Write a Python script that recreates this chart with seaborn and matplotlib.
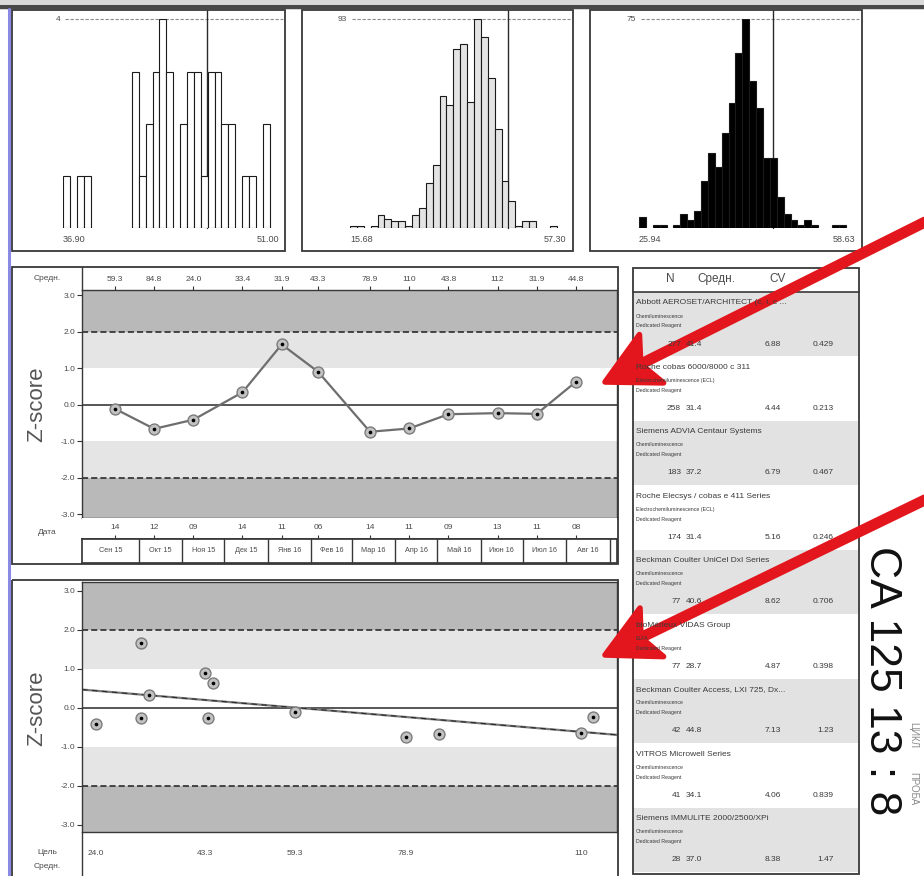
import numpy as np
import pandas as pd
import matplotlib
matplotlib.use("Agg")
import matplotlib.pyplot as plt
import matplotlib.dates as mdates
from matplotlib.patches import Rectangle, Polygon
import seaborn as sns

sns.set_theme(style="white")
plt.rcParams["font.family"] = ["Liberation Sans", "DejaVu Sans"]

W, H = 924, 876

# ---------------- data ----------------
# histograms: own method group / all labs / method principle
hist_lo = [36.90, 15.68, 25.94]
hist_hi = [51.00, 57.30, 58.63]
counts_method = [1, 0, 1, 1, 0, 0, 0, 0, 0, 0, 3, 1, 2, 3, 4, 3, 0, 2, 3, 3, 1, 3, 3, 2, 2, 0, 1, 1, 0, 2, 0]
counts_all = [1, 1, 0, 1, 6, 4, 3, 3, 1, 6, 9, 20, 28, 59, 55, 80, 82, 56, 93, 85, 67, 44, 21, 12, 1, 3, 3, 0, 0, 1, 0]
counts_principle = [4, 0, 1, 1, 0, 1, 5, 3, 6, 17, 27, 22, 34, 45, 63, 75, 53, 43, 25, 25, 11, 5, 3, 1, 3, 1, 0, 0, 1, 1, 0]
lab_result = 46.4

# Levey-Jennings history
run_dates = ["2015-09-14", "2015-10-12", "2015-11-09", "2015-12-14", "2016-01-11", "2016-02-06",
             "2016-03-14", "2016-04-11", "2016-05-09", "2016-06-13", "2016-07-11", "2016-08-08"]
run_z = [-0.11, -0.66, -0.41, 0.34, 1.65, 0.90, -0.74, -0.65, -0.26, -0.23, -0.25, 0.63]
run_means = [59.3, 84.8, 24.0, 33.4, 31.9, 43.3, 78.9, 110, 43.8, 112, 31.9, 44.8]
month_names = ["Сен 15", "Окт 15", "Ноя 15", "Дек 15", "Янв 16", "Фев 16",
               "Мар 16", "Апр 16", "Май 16", "Июн 16", "Июл 16", "Авг 16"]
mean_ticks = [24.0, 43.3, 59.3, 78.9, 110]

# peer group table
instruments = ["Abbott AEROSET/ARCHITECT (c, i, c ...", "Roche cobas 6000/8000 c 311",
               "Siemens ADVIA Centaur Systems", "Roche Elecsys / cobas e 411 Series",
               "Beckman Coulter UniCel DxI Series", "bioMérieux VIDAS Group",
               "Beckman Coulter Access, LXI 725, Dx...", "VITROS Microwell Series",
               "Siemens IMMULITE 2000/2500/XPi"]
methods = ["Chemiluminescence", "Electrochemiluminescence (ECL)", "Chemiluminescence",
           "Electrochemiluminescence (ECL)", "Chemiluminescence", "ELFA",
           "Chemiluminescence", "Chemiluminescence", "Chemiluminescence"]
reagents = ["Dedicated Reagent"] * 9
group_n = [277, 258, 183, 174, 77, 77, 42, 41, 28]
group_mean = [41.4, 31.4, 37.2, 31.4, 40.6, 28.7, 44.8, 34.1, 37.0]
group_cv = [6.88, 4.44, 6.79, 5.16, 8.62, 4.87, 7.13, 4.06, 8.38]
group_unc = [0.429, 0.213, 0.467, 0.246, 0.706, 0.398, 1.23, 0.839, 1.47]

analyte = "CA 125"
cycle_no, sample_no = 13, 8

# ---------------- figure ----------------
fig = plt.figure(figsize=(W / 100, H / 100), dpi=100)
fig.patch.set_facecolor("white")


def frac(l, t, r, b):
    return [l / W, 1 - b / H, (r - l) / W, (b - t) / H]


TXT = "#4a4a4a"
EDGE = "#383838"
DARK_BAND = "#b9b9b9"
LIGHT_BAND = "#e5e5e5"

# ---------------- histograms ----------------
BIN_PX = 6.89
hist_sets = [(counts_method, 63, "white"), (counts_all, 350, "#e4e4e4"), (counts_principle, 639, "black")]
for (counts, left, face), lo, hi in zip(hist_sets, hist_lo, hist_hi):
    n = len(counts)
    right = left + n * BIN_PX
    top, base = 19.5, 228
    ax = fig.add_axes(frac(left, top, right, base))
    edges = np.linspace(lo, hi, n + 1)
    bins_df = pd.DataFrame({"value": (edges[:-1] + edges[1:]) / 2, "count": counts})
    sns.histplot(data=bins_df, x="value", weights="count", bins=list(edges), ax=ax,
                 color=face, edgecolor="#1a1a1a", linewidth=0.8, alpha=1, zorder=2)
    for p in list(ax.patches):
        if p.get_height() == 0:
            p.remove()
    ax.set_xlim(lo, hi)
    ax.set_ylim(0, max(counts))
    ax.axis("off")
    ax.axvline(lab_result, ymin=0, ymax=(base - 10) / (base - top), color="#2a2a2a",
               lw=1.0, zorder=1, clip_on=False)
    ax.axhline(max(counts), xmin=0.01, xmax=1.03, color="#8c8c8c", lw=0.8,
               ls=(0, (3, 1.5)), clip_on=False, zorder=0)
    ax.text(-3 / (right - left), 1.0, str(max(counts)), transform=ax.transAxes,
            ha="right", va="center", fontsize=6, color=TXT)
    ax.text(0, -0.035, f"{lo:.2f}", transform=ax.transAxes, ha="left", va="top",
            fontsize=6.5, color=TXT)
    ax.text(1 + 3 / (right - left), -0.035, f"{hi:.2f}", transform=ax.transAxes,
            ha="right", va="top", fontsize=6.5, color=TXT)

# ---------------- shared helpers for the z-score panels ----------------
zticks = [3, 2, 1, 0, -1, -2, -3]


def z_background(ax):
    ax.axhspan(2, 10, color=DARK_BAND, lw=0, zorder=0)
    ax.axhspan(1, 2, color=LIGHT_BAND, lw=0, zorder=0)
    ax.axhspan(-2, -1, color=LIGHT_BAND, lw=0, zorder=0)
    ax.axhspan(-10, -2, color=DARK_BAND, lw=0, zorder=0)
    ax.axhline(0, color="#3a3a3a", lw=1.2, zorder=1)
    for v in (2, -2):
        ax.axhline(v, color="#1e1e1e", lw=1.1, ls=(0, (4, 2)), zorder=1)
    ax.set_yticks(zticks)
    ax.set_yticklabels([f"{v:.1f}" for v in zticks])
    ax.tick_params(axis="y", left=True, direction="out", length=3.5, width=0.8,
                   pad=1.5, labelsize=6, labelcolor=TXT, color="#333")
    for s in ax.spines.values():
        s.set_color(EDGE)
        s.set_linewidth(1.0)
    ax.set_xlabel("")
    ax.set_ylabel("")


def z_markers(ax, x, y):
    sns.scatterplot(x=x, y=y, ax=ax, s=62, color="#c2c2c2", edgecolor="#7c7c7c",
                    linewidth=1.0, zorder=3, legend=False)
    sns.scatterplot(x=x, y=y, ax=ax, s=7, color="black", linewidth=0, zorder=4, legend=False)


def mean_label(v):
    return f"{v:.1f}" if v < 100 else f"{v:.0f}"


# ---------------- Levey-Jennings panel ----------------
dates = pd.to_datetime(run_dates)
xnum = mdates.date2num(dates)
x0 = mdates.date2num(pd.Timestamp("2015-08-21 12:00"))
x1 = mdates.date2num(pd.Timestamp("2016-09-06 06:00"))

ax_lj = fig.add_axes(frac(82, 290, 617, 518))
z_background(ax_lj)
sns.lineplot(x=xnum, y=run_z, ax=ax_lj, color="#6e6e6e", lw=1.6, zorder=2)
z_markers(ax_lj, xnum, run_z)
ax_lj.set_xlim(x0, x1)
ax_lj.set_ylim(-3.1, 3.14)
ax_lj.xaxis.tick_top()
ax_lj.set_xticks(xnum)
ax_lj.set_xticklabels([mean_label(v) for v in run_means])
ax_lj.tick_params(axis="x", top=True, bottom=False, direction="out", length=3, width=0.8,
                  pad=2, labelsize=6, labelcolor=TXT, color="#333")

# date row
ax_day = fig.add_axes(frac(82, 518, 617, 539))
ax_day.set_xlim(x0, x1)
ax_day.set_ylim(0, 1)
ax_day.set_yticks([])
ax_day.set_xticks(xnum)
ax_day.tick_params(axis="x", bottom=True, top=False, direction="in", length=3, width=0.8,
                   labelbottom=False, color="#333")
for s in ["top", "left", "right"]:
    ax_day.spines[s].set_visible(False)
ax_day.spines["bottom"].set_color(EDGE)
for xv, d in zip(xnum, dates):
    ax_day.text(xv, 0.55, f"{d.day:02d}", ha="center", va="center", fontsize=6, color=TXT)

# month row
ax_mon = fig.add_axes(frac(82, 539, 617, 563))
ax_mon.set_xlim(x0, x1)
ax_mon.set_ylim(0, 1)
ax_mon.set_xticks([])
ax_mon.set_yticks([])
for s in ax_mon.spines.values():
    s.set_color(EDGE)
month_starts = pd.date_range(dates[0].to_period("M").to_timestamp(), periods=len(month_names) + 1, freq="MS")
mnum = mdates.date2num(month_starts)
for i, name in enumerate(month_names):
    a = x0 if i == 0 else mnum[i]
    b = mnum[i + 1]
    if i > 0:
        ax_mon.axvline(a, color=EDGE, lw=1.0)
    ax_mon.text((a + b) / 2, 0.5, name, ha="center", va="center", fontsize=5.2, color=TXT)
ax_mon.axvline(mnum[-1], color=EDGE, lw=1.0)

# ---------------- z-score vs mean panel ----------------
ax_sc = fig.add_axes(frac(82, 582, 617, 832))
z_background(ax_sc)
ax_sc.set_xlim(21.5, 116.3)
ax_sc.set_ylim(-3.18, 3.22)
sns.regplot(x=np.array(run_means), y=np.array(run_z), ax=ax_sc, scatter=False, ci=None,
            truncate=False, line_kws=dict(color="#7a7a7a", lw=1.6, zorder=2))
sns.regplot(x=np.array(run_means), y=np.array(run_z), ax=ax_sc, scatter=False, ci=None,
            truncate=False, line_kws=dict(color="#2a2a2a", lw=0.8, ls=(0, (5, 4)), zorder=2))
z_markers(ax_sc, np.array(run_means), np.array(run_z))
ax_sc.set_xlim(21.5, 116.3)
ax_sc.set_ylim(-3.18, 3.22)
ax_sc.set_xticks(mean_ticks)
ax_sc.set_xticklabels([mean_label(v) for v in mean_ticks])
ax_sc.tick_params(axis="x", bottom=True, length=0, pad=13, labelsize=6, labelcolor=TXT)
ax_sc.set_xlabel("")
ax_sc.set_ylabel("")

# ---------------- overlay: frames, table, titles, arrows ----------------
ov = fig.add_axes([0, 0, 1, 1], zorder=10)
ov.set_xlim(0, W)
ov.set_ylim(H, 0)
ov.axis("off")
ov.patch.set_alpha(0)

ov.add_patch(Rectangle((0, 0), W, 4, color="#dadada", lw=0))
ov.plot([0, W], [6.5, 6.5], color="#4a4a4a", lw=3.2, solid_capstyle="butt")
ov.plot([9, 9], [9, H], color="#8a8ae4", lw=2.2)

for (l, t, r, b) in [(12, 10, 285, 251), (302, 10, 573, 251), (590, 10, 862, 251),
                     (12, 267, 618, 564), (12, 580, 618, H + 5), (633, 268, 859, 874)]:
    ov.add_patch(Rectangle((l, t), r - l, b - t, fill=False, ec=EDGE, lw=1.3))
ov.plot([82, 82], [267, 290], color=EDGE, lw=1.0)
ov.plot([82, 82], [832, H], color=EDGE, lw=1.0)

ov.text(47, 279, "Средн.", ha="center", va="center", fontsize=6, color=TXT)
ov.text(47, 532, "Дата", ha="center", va="center", fontsize=6, color=TXT)
ov.text(47, 853, "Цель", ha="center", va="center", fontsize=6, color=TXT)
ov.text(47, 866, "Средн.", ha="center", va="center", fontsize=6, color=TXT)
for yc in (404, 708):
    ov.text(37, yc, "Z-score", rotation=90, ha="center", va="center", fontsize=16, color="#555555")

# peer group table
ov.plot([633, 859], [292, 292], color=EDGE, lw=1.2)
ov.text(670, 279, "N", ha="center", va="center", fontsize=8.5, color=TXT)
ov.text(716, 279, "Средн.", ha="center", va="center", fontsize=8.5, color=TXT)
ov.text(778, 279, "CV", ha="center", va="center", fontsize=8.5, color=TXT)
ROW_H = (872 - 292) / len(instruments)
for i in range(len(instruments)):
    top = 292 + i * ROW_H
    if i % 2 == 0:
        ov.add_patch(Rectangle((634, top), 224, ROW_H, color="#e2e2e2", lw=0, zorder=0))
    ov.text(636, top + 11, instruments[i], ha="left", va="center", fontsize=6, color="#3a3a3a")
    ov.text(636, top + 24, methods[i], ha="left", va="center", fontsize=3.8, color="#3a3a3a")
    ov.text(636, top + 34, reagents[i], ha="left", va="center", fontsize=3.8, color="#3a3a3a")
    yv = top + 52
    ov.text(681, yv, f"{group_n[i]}", ha="right", va="center", fontsize=6, color="#3a3a3a")
    ov.text(702, yv, f"{group_mean[i]:.1f}", ha="right", va="center", fontsize=6, color="#3a3a3a")
    ov.text(781, yv, f"{group_cv[i]:.2f}", ha="right", va="center", fontsize=6, color="#3a3a3a")
    ov.text(834, yv, f"{group_unc[i]:.3g}", ha="right", va="center", fontsize=6, color="#3a3a3a")

ov.text(881, 681, f"{analyte} {cycle_no} : {sample_no}", rotation=-90, ha="center", va="center",
        fontsize=32, color="#111111")
ov.text(913, 735, "ЦИКЛ", rotation=-90, ha="center", va="center", fontsize=7, color="#8a8a8a")
ov.text(913, 789, "ПРОБА", rotation=-90, ha="center", va="center", fontsize=7, color="#8a8a8a")

# hand-drawn style pointer arrows (shaft + notched head)
RED = "#e2161c"


def pointer(tail, tip, head_len=52, head_half=27, notch=40, shaft_px=11):
    tail = np.asarray(tail, float)
    tip = np.asarray(tip, float)
    u = (tail - tip) / np.linalg.norm(tail - tip)
    v = np.array([-u[1], u[0]])
    notch_pt = tip + notch * u
    ov.plot([tail[0], notch_pt[0]], [tail[1], notch_pt[1]], color=RED,
            lw=shaft_px * 0.72, solid_capstyle="round")
    head = [tip, tip + head_len * u + head_half * v, notch_pt, tip + head_len * u - head_half * v]
    ov.add_patch(Polygon(head, closed=True, fc=RED, ec=RED, lw=4, joinstyle="round"))


pointer((935, 217), (605, 382))
pointer((935, 495), (605, 655))

fig.savefig("out.png", dpi=100, facecolor="white")
